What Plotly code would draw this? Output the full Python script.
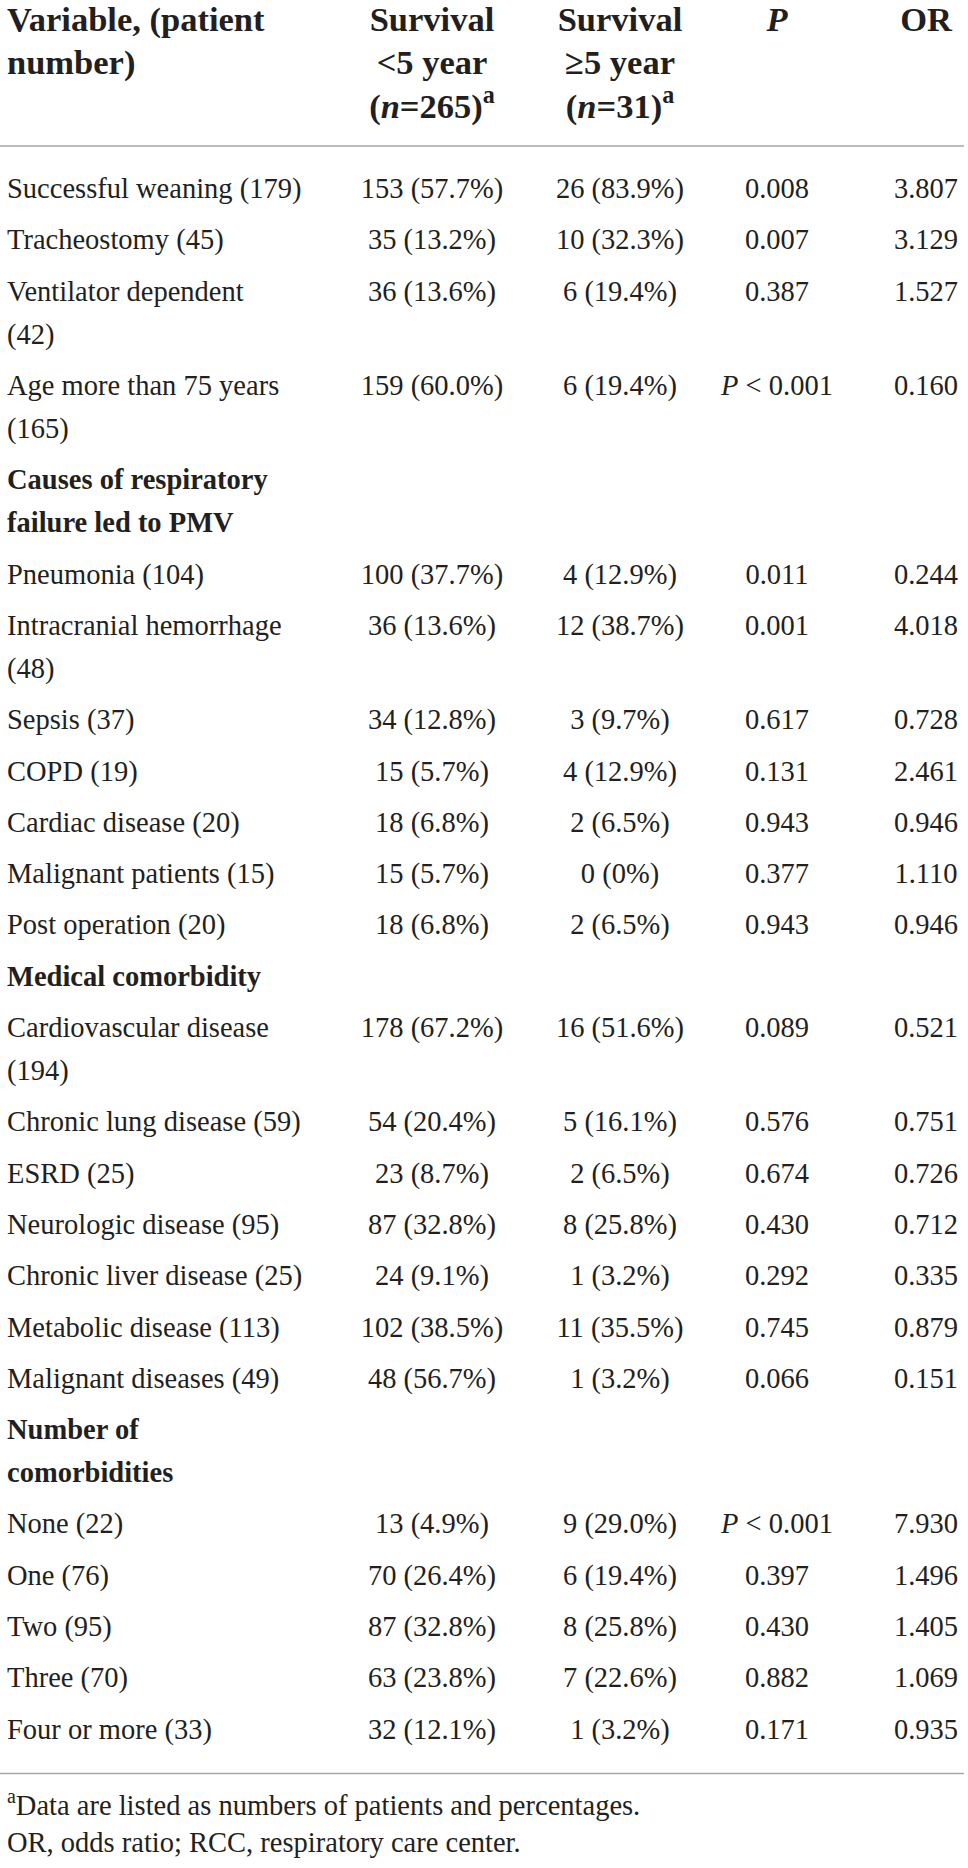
import plotly.graph_objects as go

# table content
variables = [
    "Successful weaning (179)", "Tracheostomy (45)", "Ventilator dependent\n(42)",
    "Age more than 75 years\n(165)", "Causes of respiratory\nfailure led to PMV",
    "Pneumonia (104)", "Intracranial hemorrhage\n(48)", "Sepsis (37)", "COPD (19)",
    "Cardiac disease (20)", "Malignant patients (15)", "Post operation (20)",
    "Medical comorbidity", "Cardiovascular disease\n(194)", "Chronic lung disease (59)",
    "ESRD (25)", "Neurologic disease (95)", "Chronic liver disease (25)",
    "Metabolic disease (113)", "Malignant diseases (49)", "Number of\ncomorbidities",
    "None (22)", "One (76)", "Two (95)", "Three (70)", "Four or more (33)",
]
lt5_n = [153, 35, 36, 159, None, 100, 36, 34, 15, 18, 15, 18, None,
         178, 54, 23, 87, 24, 102, 48, None, 13, 70, 87, 63, 32]
lt5_pct = [57.7, 13.2, 13.6, 60.0, None, 37.7, 13.6, 12.8, 5.7, 6.8, 5.7, 6.8, None,
           67.2, 20.4, 8.7, 32.8, 9.1, 38.5, 56.7, None, 4.9, 26.4, 32.8, 23.8, 12.1]
ge5_n = [26, 10, 6, 6, None, 4, 12, 3, 4, 2, 0, 2, None,
         16, 5, 2, 8, 1, 11, 1, None, 9, 6, 8, 7, 1]
ge5_pct = [83.9, 32.3, 19.4, 19.4, None, 12.9, 38.7, 9.7, 12.9, 6.5, 0, 6.5, None,
           51.6, 16.1, 6.5, 25.8, 3.2, 35.5, 3.2, None, 29.0, 19.4, 25.8, 22.6, 3.2]
p_values = ["0.008", "0.007", "0.387", "<0.001", None, "0.011", "0.001", "0.617", "0.131",
            "0.943", "0.377", "0.943", None, "0.089", "0.576", "0.674", "0.430", "0.292",
            "0.745", "0.066", None, "<0.001", "0.397", "0.430", "0.882", "0.171"]
odds_ratio = [3.807, 3.129, 1.527, 0.160, None, 0.244, 4.018, 0.728, 2.461, 0.946, 1.110,
              0.946, None, 0.521, 0.751, 0.726, 0.712, 0.335, 0.879, 0.151, None,
              7.930, 1.496, 1.405, 1.069, 0.935]

headers = [
    ["Variable, (patient", "number)"],
    ["Survival", "&lt;5 year", "(<i>n</i>=265)<sup>a</sup>"],
    ["Survival", "≥5 year", "(<i>n</i>=31)<sup>a</sup>"],
    ["<i>P</i>"],
    ["OR"],
]
footnotes = ["<sup>a</sup>Data are listed as numbers of patients and percentages.",
             "OR, odds ratio; RCC, respiratory care center."]

# layout constants (pixels)
W, H = 968, 1868
FONT = "Liberation Serif"
INK = "#231f20"
BODY = 28.5
HEAD = 34.5
col_x = [7, 432, 620, 777, 926]
first_base = 201
row_pitch = 51.3
wrap_pitch = 43
head_base = 34
head_pitch = 43.5
mid = 0.35  # baseline offset of middle-anchored text (em)


def fmt_count(n, p):
    if n is None:
        return ""
    pct = "0" if p == 0 else f"{p:.1f}"
    return f"{n} ({pct}%)"


def fmt_p(p):
    if p is None:
        return ""
    if p.startswith("<"):
        return "<i>P</i> &lt; " + p[1:]
    return p


# baselines of each body row / line
label_x, label_y, label_t = [], [], []
row_base = []
y = first_base
for i, v in enumerate(variables):
    row_base.append(y)
    lines = v.split("\n")
    bold = lt5_n[i] is None
    for k, ln in enumerate(lines):
        label_x.append(col_x[0])
        label_y.append(y + k * wrap_pitch - mid * BODY)
        label_t.append(f"<b>{ln}</b>" if bold else ln)
    y += (len(lines) - 1) * wrap_pitch + row_pitch
last_base = row_base[-1]

fig = go.Figure()

fig.add_trace(go.Scatter(
    x=label_x, y=label_y, text=label_t,
    mode="text", textposition="middle right", cliponaxis=False,
    textfont=dict(family=FONT, size=BODY, color=INK), hoverinfo="skip"))

value_cols = [
    [fmt_count(n, p) for n, p in zip(lt5_n, lt5_pct)],
    [fmt_count(n, p) for n, p in zip(ge5_n, ge5_pct)],
    [fmt_p(p) for p in p_values],
    ["" if o is None else f"{o:.3f}" for o in odds_ratio],
]
for j, vals in enumerate(value_cols):
    keep = [i for i, t in enumerate(vals) if t]
    fig.add_trace(go.Scatter(
        x=[col_x[j + 1]] * len(keep),
        y=[row_base[i] - mid * BODY for i in keep],
        text=[vals[i] for i in keep],
        mode="text", textposition="middle center", cliponaxis=False,
        textfont=dict(family=FONT, size=BODY, color=INK), hoverinfo="skip"))

# header
hx, hy, ht, hp = [], [], [], []
for j, lines in enumerate(headers):
    for k, ln in enumerate(lines):
        hx.append(col_x[j])
        hy.append(head_base + k * head_pitch - mid * HEAD)
        ht.append(f"<b>{ln}</b>")
        hp.append("middle right" if j == 0 else "middle center")
fig.add_trace(go.Scatter(
    x=hx, y=hy, text=ht, mode="text", textposition=hp, cliponaxis=False,
    textfont=dict(family=FONT, size=HEAD, color=INK), hoverinfo="skip"))

# footnotes
foot_base = [1818, 1855]
fig.add_trace(go.Scatter(
    x=[col_x[0]] * len(footnotes), y=[b - mid * BODY for b in foot_base], text=footnotes,
    mode="text", textposition="middle right", cliponaxis=False,
    textfont=dict(family=FONT, size=BODY, color=INK), hoverinfo="skip"))

# horizontal rules
for ry in [146, last_base + 32]:
    fig.add_shape(type="line", xref="x", yref="y", x0=0, x1=964, y0=ry, y1=ry,
                  line=dict(color="#a6a6a6", width=1.5))

fig.update_xaxes(range=[0, W], visible=False, fixedrange=True)
fig.update_yaxes(range=[H, 0], visible=False, fixedrange=True)
fig.update_layout(
    width=W, height=H, margin=dict(l=0, r=0, t=0, b=0),
    paper_bgcolor="white", plot_bgcolor="white", showlegend=False,
)

fig.write_html("out.html", config={"displayModeBar": False, "staticPlot": True},
               post_script="document.body.style.margin='0';"
                           "document.body.style.overflow='hidden';")
